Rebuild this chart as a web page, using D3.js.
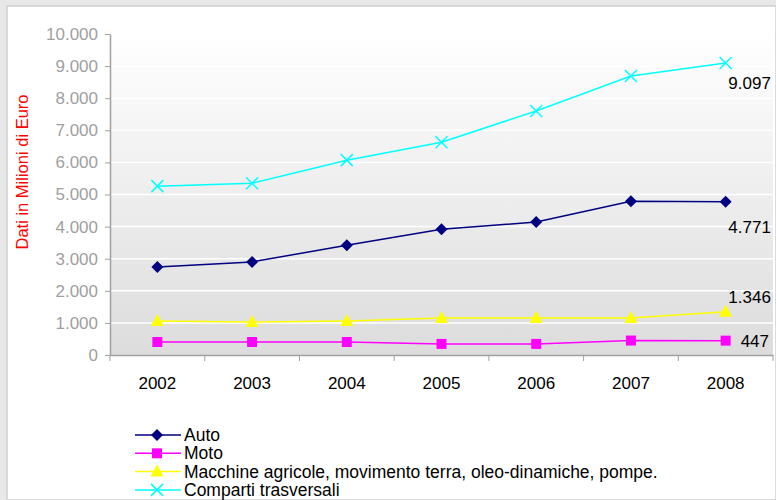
<!DOCTYPE html>
<html>
<head>
<meta charset="utf-8">
<script src="https://cdn.jsdelivr.net/npm/d3@7"></script>
<style>
body { margin: 0; background: #e8e8e8; }
svg { display: block; font-family: "Liberation Sans", Arial, sans-serif; }
</style>
</head>
<body>
<div id="chart_area"></div>
<script>
// data
var years = ["2002", "2003", "2004", "2005", "2006", "2007", "2008"];
var auto = [2740, 2900, 3420, 3920, 4140, 4790, 4771];
var moto = [405, 405, 405, 345, 345, 450, 447];
var macchine = [1060, 1030, 1060, 1150, 1150, 1150, 1346];
var comparti = [5260, 5350, 6070, 6630, 7600, 8690, 9097];
var seriesNames = ["Auto", "Moto", "Macchine agricole, movimento terra, oleo-dinamiche, pompe.", "Comparti trasversali"];
var yTicks = [0, 1000, 2000, 3000, 4000, 5000, 6000, 7000, 8000, 9000, 10000];
var lastLabels = ["4.771", "447", "1.346", "9.097"];

var series = [
	{ name: seriesNames[0], values: auto, color: "#000080", symbol: "diamond" },
	{ name: seriesNames[1], values: moto, color: "#ff00ff", symbol: "square" },
	{ name: seriesNames[2], values: macchine, color: "#ffff00", symbol: "triangle" },
	{ name: seriesNames[3], values: comparti, color: "#00ffff", symbol: "cross" }
];

var sFrameWidth = 776;
var sFrameHeight = 500;
var sFrame = d3.select("#chart_area").append("svg")
	.attr("width", sFrameWidth)
	.attr("height", sFrameHeight);

// gray frame and white panel
sFrame.append("rect").attr("width", sFrameWidth).attr("height", sFrameHeight).attr("fill", "#e8e8e8");
sFrame.append("rect").attr("x", 7).attr("y", 6).attr("width", sFrameWidth - 7).attr("height", sFrameHeight - 6)
	.attr("fill", "#ffffff").attr("stroke", "#cfcfcf").attr("stroke-width", 1.5);

var pLeft = 110, pRight = 773, pTop = 34, pBottom = 355;

var x = d3.scaleBand().domain(years).range([pLeft, pRight]);
var y = d3.scaleLinear().domain([0, 10000]).range([pBottom, pTop]);

// gradient background of the plot
var defs = sFrame.append("defs");
var grad = defs.append("linearGradient").attr("id", "bg").attr("x1", 0).attr("y1", 0).attr("x2", 0).attr("y2", 1);
grad.append("stop").attr("offset", "0%").attr("stop-color", "#ffffff");
grad.append("stop").attr("offset", "100%").attr("stop-color", "#dcdcdc");

sFrame.append("rect")
	.attr("x", pLeft).attr("y", pTop)
	.attr("width", pRight - pLeft).attr("height", pBottom - pTop)
	.attr("fill", "url(#bg)");

// grid
sFrame.append("g").selectAll("line").data(yTicks.slice(1)).join("line")
	.attr("x1", pLeft).attr("x2", pRight)
	.attr("y1", function(d) { return y(d); }).attr("y2", function(d) { return y(d); })
	.attr("stroke", "#ffffff").attr("stroke-width", 1.5);

// y axis
var yFormat = function(d) { return d3.format(",")(d).replace(/,/g, "."); };
var yAxis = sFrame.append("g").attr("transform", "translate(" + pLeft + ",0)")
	.call(d3.axisLeft(y).tickValues(yTicks).tickFormat(yFormat).tickSize(5).tickSizeOuter(0));
yAxis.select(".domain").attr("stroke", "#a0a0a0").attr("stroke-width", 1.5);
yAxis.selectAll(".tick line").attr("stroke", "#a0a0a0");
yAxis.selectAll(".tick text").attr("fill", "#a0a0a0").attr("font-size", 17).attr("x", -12);

// x axis
var xAxis = sFrame.append("g").attr("transform", "translate(0," + pBottom + ")")
	.call(d3.axisBottom(x).tickSize(0).tickSizeOuter(0));
xAxis.select(".domain").attr("stroke", "#a0a0a0").attr("stroke-width", 1.5);
xAxis.selectAll(".tick text").attr("fill", "#000").attr("font-size", 17).attr("y", 22);
var bounds = years.map(function(d) { return x(d); }).concat([pRight]);
xAxis.append("g").selectAll("line").data(bounds).join("line")
	.attr("x1", function(d) { return d; }).attr("x2", function(d) { return d; })
	.attr("y1", 0).attr("y2", 6).attr("stroke", "#a0a0a0");

// y title
sFrame.append("text")
	.attr("transform", "translate(28,172) rotate(-90)")
	.attr("text-anchor", "middle")
	.attr("fill", "#ff0000").attr("font-size", 16.5)
	.text("Dati in Milioni di Euro");

var cx = function(i) { return x(years[i]) + x.bandwidth() / 2; };

function drawMarker(g, s, px, py) {
	var p = d3.path();
	if (s.symbol === "cross") {
		p.moveTo(px - 6, py - 6); p.lineTo(px + 6, py + 6);
		p.moveTo(px - 6, py + 6); p.lineTo(px + 6, py - 6);
		g.append("path").attr("d", p.toString())
			.attr("stroke", s.color).attr("stroke-width", 1.5).attr("fill", "none");
		return;
	}
	if (s.symbol === "diamond") {
		p.moveTo(px, py - 6); p.lineTo(px + 6, py); p.lineTo(px, py + 6); p.lineTo(px - 6, py); p.closePath();
	} else if (s.symbol === "square") {
		p.rect(px - 5, py - 5, 10, 10);
	} else {
		p.moveTo(px, py - 7); p.lineTo(px + 6.5, py + 5); p.lineTo(px - 6.5, py + 5); p.closePath();
	}
	g.append("path").attr("d", p.toString()).attr("fill", s.color);
}

var line = d3.line()
	.x(function(d, i) { return cx(i); })
	.y(function(d) { return y(d); });

series.forEach(function(s) {
	var g = sFrame.append("g");
	g.append("path").attr("d", line(s.values)).attr("fill", "none")
		.attr("stroke", s.color).attr("stroke-width", 1.5);
	s.values.forEach(function(v, i) { drawMarker(g, s, cx(i), y(v)); });
});

// end labels
var last = years.length - 1;
var labelPos = [
	{ dx: 24, dy: 31, anchor: "middle" },
	{ dx: 15, dy: 6, anchor: "start" },
	{ dx: 24, dy: -9, anchor: "middle" },
	{ dx: 24, dy: 26, anchor: "middle" }
];
series.forEach(function(s, k) {
	sFrame.append("text")
		.attr("x", cx(last) + labelPos[k].dx)
		.attr("y", y(s.values[last]) + labelPos[k].dy)
		.attr("text-anchor", labelPos[k].anchor)
		.attr("font-size", 17).attr("fill", "#000")
		.text(lastLabels[k]);
});

// legend
var legend = sFrame.append("g").attr("transform", "translate(135,435)");
series.forEach(function(s, k) {
	var ly = k * 18.3;
	var lg = legend.append("g");
	lg.append("line").attr("x1", 0).attr("x2", 46).attr("y1", ly).attr("y2", ly)
		.attr("stroke", s.color).attr("stroke-width", 1.5);
	drawMarker(lg, s, 22, ly);
	lg.append("text").attr("x", 49).attr("y", ly + 6)
		.attr("font-size", 17.5).attr("fill", "#000").text(s.name);
});
</script>
</body>
</html>
